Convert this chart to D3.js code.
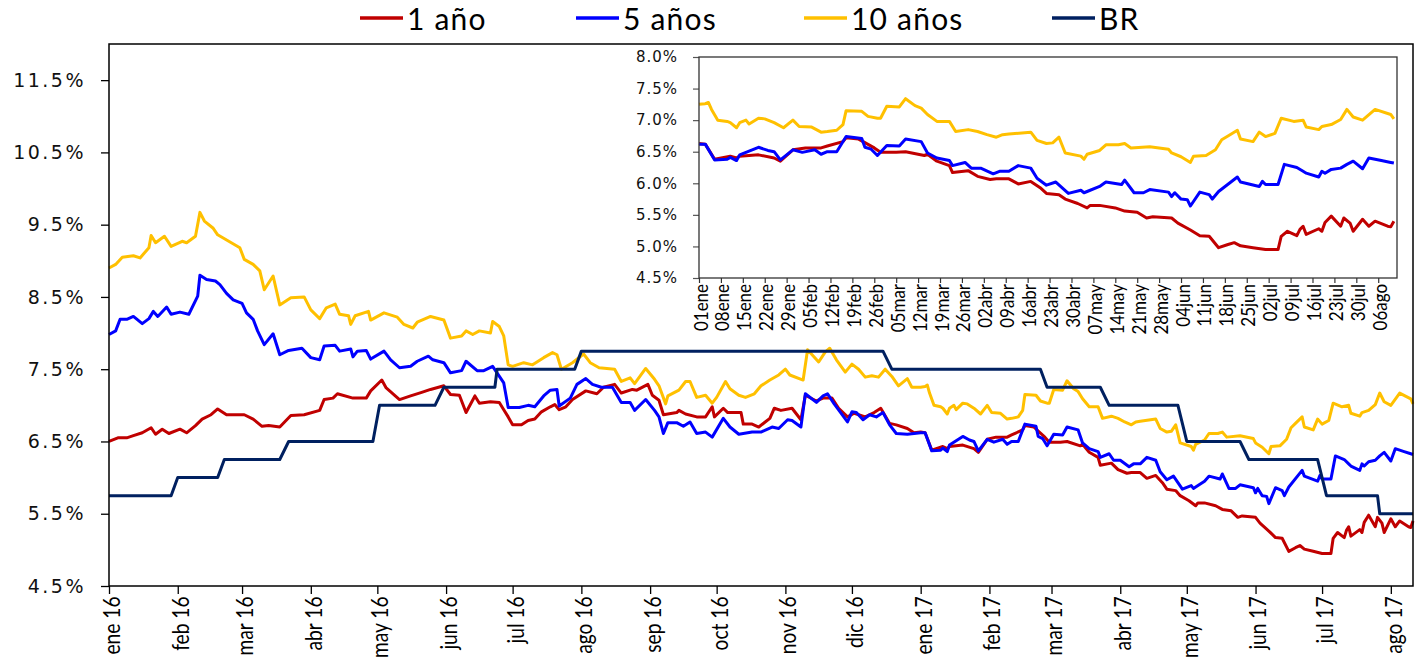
<!DOCTYPE html>
<html>
<head>
<meta charset="utf-8">
<script src="https://cdn.jsdelivr.net/npm/d3@7"></script>
<style>
  body { margin: 0; background: #fff; }
  svg { display: block; }
</style>
</head>
<body>
<div id="container"></div>
<script>
/* CONSTANTS AND GLOBALS */
const width = 1422,
  height = 660,
  margin = { top: 44, bottom: 74, left: 109, right: 9 },
  inset = { left: 699, right: 1397, top: 57, bottom: 278 };

const parse = d3.timeParse("%Y-%m-%d");

/* DATA */
const seriesNames = ["1 año", "5 años", "10 años", "BR"];
const seriesColors = ["#C00000", "#0000FF", "#FFC000", "#002060"];
const meses = ["ene", "feb", "mar", "abr", "may", "jun", "jul", "ago", "sep", "oct", "nov", "dic"];
const yTicksMain = [4.5, 5.5, 6.5, 7.5, 8.5, 9.5, 10.5, 11.5];
const yTicksInset = [4.5, 5.0, 5.5, 6.0, 6.5, 7.0, 7.5, 8.0];

// TES 1 año
const dates1y = ["2016-01-01","2016-01-05","2016-01-09","2016-01-12","2016-01-16","2016-01-20","2016-01-22","2016-01-25","2016-01-28","2016-02-02","2016-02-05","2016-02-09","2016-02-12","2016-02-16","2016-02-19","2016-02-23","2016-03-02","2016-03-06","2016-03-10","2016-03-13","2016-03-18","2016-03-23","2016-03-29","2016-04-05","2016-04-07","2016-04-11","2016-04-13","2016-04-20","2016-04-26","2016-04-28","2016-05-03","2016-05-05","2016-05-11","2016-05-16","2016-05-21","2016-05-25","2016-05-31","2016-06-03","2016-06-07","2016-06-10","2016-06-14","2016-06-16","2016-06-21","2016-06-25","2016-06-27","2016-06-29","2016-07-01","2016-07-05","2016-07-08","2016-07-11","2016-07-14","2016-07-18","2016-07-20","2016-07-22","2016-07-25","2016-07-28","2016-08-03","2016-08-08","2016-08-11","2016-08-16","2016-08-19","2016-08-24","2016-08-26","2016-08-31","2016-09-02","2016-09-05","2016-09-07","2016-09-13","2016-09-14","2016-09-17","2016-09-22","2016-09-26","2016-09-29","2016-09-30","2016-10-04","2016-10-06","2016-10-12","2016-10-13","2016-10-17","2016-10-20","2016-10-25","2016-10-27","2016-10-30","2016-11-04","2016-11-08","2016-11-10","2016-11-15","2016-11-18","2016-11-22","2016-11-25","2016-11-29","2016-12-02","2016-12-07","2016-12-11","2016-12-14","2016-12-18","2016-12-21","2016-12-26","2016-12-29",
  "2017-01-01","2017-01-03","2017-01-06","2017-01-11","2017-01-13","2017-01-14","2017-01-17","2017-01-20","2017-01-25","2017-01-27","2017-01-31","2017-02-04","2017-02-09","2017-02-11","2017-02-16","2017-02-17","2017-02-21","2017-02-26","2017-02-28","2017-03-05","2017-03-08","2017-03-14","2017-03-15","2017-03-18","2017-03-22","2017-03-23","2017-03-28","2017-03-31","2017-04-04","2017-04-06","2017-04-10","2017-04-13","2017-04-17","2017-04-20","2017-04-22","2017-04-26","2017-04-28","2017-05-02","2017-05-05","2017-05-06","2017-05-09","2017-05-14","2017-05-17","2017-05-21","2017-05-24","2017-05-26","2017-06-01","2017-06-03","2017-06-07","2017-06-10","2017-06-13","2017-06-16","2017-06-19","2017-06-21","2017-06-23","2017-06-27","2017-07-01","2017-07-05","2017-07-06","2017-07-08","2017-07-11","2017-07-12","2017-07-13","2017-07-14","2017-07-18","2017-07-19","2017-07-20","2017-07-22","2017-07-25","2017-07-26","2017-07-28","2017-07-29","2017-08-01","2017-08-03","2017-08-05","2017-08-09","2017-08-10","2017-08-11"];
const values1y = [6.50,6.55,6.55,6.58,6.62,6.69,6.60,6.67,6.61,6.67,6.62,6.72,6.81,6.87,6.95,6.87,6.87,6.81,6.71,6.72,6.70,6.86,6.87,6.93,7.08,7.10,7.16,7.10,7.10,7.20,7.35,7.24,7.08,7.13,7.18,7.22,7.27,7.15,7.14,6.90,7.13,7.03,7.05,7.04,6.94,6.84,6.73,6.73,6.79,6.81,6.91,6.98,7.01,6.94,6.98,7.08,7.20,7.16,7.25,7.29,7.17,7.22,7.21,7.29,7.14,7.07,6.87,6.90,6.93,6.88,6.84,6.84,6.98,6.84,6.96,6.90,6.90,6.74,6.74,6.70,6.82,6.96,6.93,6.96,6.80,7.14,7.06,7.10,7.10,6.96,6.84,6.89,6.84,6.90,6.96,6.75,6.73,6.68,6.62,
  6.63,6.62,6.38,6.43,6.40,6.43,6.44,6.45,6.40,6.35,6.53,6.56,6.56,6.59,6.66,6.72,6.70,6.56,6.49,6.49,6.50,6.44,6.46,6.35,6.28,6.17,6.20,6.11,6.06,6.07,6.07,5.99,6.03,5.93,5.84,5.82,5.75,5.68,5.61,5.65,5.65,5.61,5.56,5.54,5.45,5.47,5.45,5.37,5.26,5.17,5.16,4.98,5.03,5.06,5.01,4.98,4.95,4.95,5.16,5.24,5.17,5.27,5.32,5.19,5.28,5.24,5.38,5.48,5.32,5.45,5.37,5.24,5.43,5.32,5.40,5.32,5.31,5.40];

// TES 5 años
const dates5y = ["2016-01-01","2016-01-04","2016-01-06","2016-01-09","2016-01-12","2016-01-16","2016-01-19","2016-01-21","2016-01-23","2016-01-27","2016-01-29","2016-02-02","2016-02-06","2016-02-10","2016-02-11","2016-02-14","2016-02-18","2016-02-20","2016-02-23","2016-02-26","2016-03-01","2016-03-03","2016-03-06","2016-03-08","2016-03-11","2016-03-15","2016-03-18","2016-03-22","2016-03-28","2016-04-01","2016-04-05","2016-04-07","2016-04-12","2016-04-14","2016-04-19","2016-04-20","2016-04-22","2016-04-26","2016-04-28","2016-05-04","2016-05-07","2016-05-11","2016-05-16","2016-05-19","2016-05-24","2016-05-26","2016-05-31","2016-06-03","2016-06-08","2016-06-10","2016-06-15","2016-06-18","2016-06-22","2016-06-27","2016-06-29","2016-07-04","2016-07-08","2016-07-11","2016-07-15","2016-07-18","2016-07-21","2016-07-22","2016-07-27","2016-07-30","2016-08-03","2016-08-06","2016-08-10","2016-08-15","2016-08-19","2016-08-23","2016-08-25","2016-08-30","2016-09-03","2016-09-05","2016-09-07","2016-09-09","2016-09-13","2016-09-16","2016-09-19","2016-09-22","2016-09-26","2016-09-29","2016-10-04","2016-10-07","2016-10-11","2016-10-17","2016-10-21","2016-10-26","2016-10-29","2016-11-02","2016-11-04","2016-11-08","2016-11-10","2016-11-15","2016-11-18","2016-11-20","2016-11-23","2016-11-29","2016-12-01","2016-12-03","2016-12-06","2016-12-09","2016-12-12","2016-12-15","2016-12-18","2016-12-21","2016-12-26","2016-12-29",
  "2017-01-01","2017-01-03","2017-01-06","2017-01-10","2017-01-11","2017-01-13","2017-01-14","2017-01-17","2017-01-20","2017-01-23","2017-01-25","2017-01-27","2017-01-31","2017-02-03","2017-02-07","2017-02-09","2017-02-11","2017-02-14","2017-02-17","2017-02-22","2017-02-23","2017-02-25","2017-02-27","2017-03-02","2017-03-06","2017-03-08","2017-03-13","2017-03-15","2017-03-18","2017-03-22","2017-03-23","2017-03-27","2017-03-29","2017-04-01","2017-04-05","2017-04-07","2017-04-10","2017-04-13","2017-04-17","2017-04-19","2017-04-22","2017-04-25","2017-04-29","2017-05-03","2017-05-04","2017-05-05","2017-05-09","2017-05-11","2017-05-16","2017-05-17","2017-05-20","2017-05-23","2017-05-25","2017-05-31","2017-06-01","2017-06-02","2017-06-04","2017-06-06","2017-06-07","2017-06-10","2017-06-13","2017-06-14","2017-06-16","2017-06-22","2017-06-23","2017-06-29","2017-06-30","2017-07-01","2017-07-05","2017-07-07","2017-07-11","2017-07-13","2017-07-14","2017-07-18","2017-07-19","2017-07-20","2017-07-22","2017-07-25","2017-07-27","2017-07-29","2017-08-01","2017-08-03","2017-08-07","2017-08-10","2017-08-11"];
const values5y = [7.98,8.03,8.19,8.19,8.23,8.13,8.20,8.30,8.23,8.36,8.26,8.29,8.26,8.51,8.80,8.74,8.72,8.67,8.55,8.46,8.41,8.28,8.19,8.03,7.84,7.99,7.70,7.76,7.79,7.66,7.63,7.82,7.83,7.75,7.78,7.67,7.75,7.76,7.64,7.75,7.63,7.52,7.54,7.61,7.68,7.63,7.59,7.45,7.48,7.61,7.48,7.48,7.54,7.31,6.97,6.97,7.00,6.98,7.13,7.21,7.22,6.99,7.10,7.29,7.37,7.29,7.25,7.25,7.04,7.04,6.93,7.08,6.93,6.84,6.61,6.76,6.76,6.71,6.77,6.61,6.63,6.56,6.82,6.70,6.60,6.63,6.63,6.70,6.68,6.80,6.79,6.70,7.16,7.04,7.13,7.16,7.02,6.77,6.91,6.90,6.80,6.87,6.84,6.90,6.73,6.61,6.60,6.61,
  6.62,6.62,6.37,6.38,6.41,6.36,6.45,6.51,6.57,6.52,6.50,6.37,6.53,6.49,6.53,6.46,6.50,6.50,6.74,6.71,6.57,6.54,6.44,6.60,6.59,6.70,6.66,6.48,6.40,6.36,6.28,6.33,6.24,6.24,6.15,6.19,6.19,6.28,6.24,6.08,5.97,6.02,5.84,5.89,5.85,5.87,5.95,6.02,5.98,6.05,5.85,5.85,5.90,5.86,5.79,5.85,5.75,5.74,5.64,5.86,5.82,5.75,5.87,6.10,6.02,5.95,6.03,5.98,5.98,6.30,6.25,6.19,6.16,6.10,6.19,6.16,6.22,6.24,6.30,6.35,6.23,6.40,6.36,6.33,6.32];

// TES 10 años
const dates10y = ["2016-01-01","2016-01-04","2016-01-07","2016-01-12","2016-01-15","2016-01-19","2016-01-20","2016-01-22","2016-01-26","2016-01-29","2016-02-03","2016-02-05","2016-02-09","2016-02-11","2016-02-13","2016-02-17","2016-02-19","2016-02-24","2016-02-29","2016-03-02","2016-03-06","2016-03-09","2016-03-11","2016-03-15","2016-03-18","2016-03-23","2016-03-29","2016-04-01","2016-04-05","2016-04-08","2016-04-12","2016-04-14","2016-04-18","2016-04-19","2016-04-21","2016-04-27","2016-04-28","2016-05-04","2016-05-10","2016-05-13","2016-05-17","2016-05-19","2016-05-25","2016-05-31","2016-06-03","2016-06-08","2016-06-10","2016-06-13","2016-06-16","2016-06-21","2016-06-22","2016-06-25","2016-06-27","2016-06-29","2016-07-01","2016-07-06","2016-07-10","2016-07-15","2016-07-19","2016-07-21","2016-07-23","2016-07-28","2016-08-02","2016-08-05","2016-08-09","2016-08-16","2016-08-19","2016-08-23","2016-08-25","2016-08-30","2016-09-03","2016-09-05","2016-09-08","2016-09-09","2016-09-14","2016-09-17","2016-09-19","2016-09-22","2016-09-26","2016-09-29","2016-10-01","2016-10-05","2016-10-07","2016-10-11","2016-10-14","2016-10-18","2016-10-21","2016-10-25","2016-10-29","2016-11-01","2016-11-03","2016-11-09","2016-11-11","2016-11-16","2016-11-19","2016-11-21","2016-11-24","2016-11-28","2016-12-01","2016-12-04","2016-12-07","2016-12-10","2016-12-13","2016-12-16","2016-12-19","2016-12-22","2016-12-26","2016-12-28",
  "2017-01-01","2017-01-03","2017-01-04","2017-01-05","2017-01-07","2017-01-10","2017-01-11","2017-01-13","2017-01-14","2017-01-16","2017-01-17","2017-01-20","2017-01-22","2017-01-25","2017-01-28","2017-01-31","2017-02-02","2017-02-06","2017-02-09","2017-02-11","2017-02-14","2017-02-16","2017-02-17","2017-02-22","2017-02-24","2017-02-27","2017-02-28","2017-03-02","2017-03-06","2017-03-08","2017-03-11","2017-03-13","2017-03-15","2017-03-18","2017-03-22","2017-03-24","2017-03-28","2017-03-31","2017-04-03","2017-04-06","2017-04-08","2017-04-10","2017-04-17","2017-04-19","2017-04-22","2017-04-24","2017-04-26","2017-04-28","2017-05-03","2017-05-04","2017-05-05","2017-05-09","2017-05-11","2017-05-15","2017-05-17","2017-05-19","2017-05-25","2017-05-31","2017-06-01","2017-06-04","2017-06-07","2017-06-08","2017-06-12","2017-06-15","2017-06-17","2017-06-19","2017-06-22","2017-06-23","2017-06-27","2017-06-29","2017-07-01","2017-07-04","2017-07-06","2017-07-10","2017-07-13","2017-07-14","2017-07-18","2017-07-19","2017-07-22","2017-07-25","2017-07-27","2017-07-29","2017-08-01","2017-08-05","2017-08-10","2017-08-11"];
const values10y = [8.90,8.95,9.05,9.07,9.04,9.18,9.35,9.25,9.34,9.20,9.27,9.25,9.34,9.67,9.55,9.45,9.36,9.27,9.18,9.02,8.95,8.86,8.60,8.79,8.39,8.49,8.50,8.32,8.20,8.35,8.40,8.26,8.24,8.12,8.24,8.30,8.18,8.28,8.22,8.12,8.07,8.15,8.23,8.18,7.93,7.96,8.03,7.98,8.03,8.00,8.16,8.09,7.96,7.56,7.54,7.59,7.56,7.66,7.73,7.70,7.50,7.59,7.71,7.59,7.52,7.50,7.33,7.38,7.30,7.51,7.36,7.27,7.02,7.13,7.21,7.33,7.33,7.11,7.14,7.03,7.11,7.33,7.23,7.14,7.11,7.16,7.27,7.35,7.42,7.50,7.42,7.35,7.77,7.60,7.74,7.79,7.63,7.46,7.57,7.50,7.39,7.41,7.39,7.50,7.40,7.27,7.37,7.25,
  7.25,7.26,7.28,7.17,7.00,6.98,6.96,6.88,6.96,7.00,6.94,7.03,7.02,6.96,6.88,7.00,6.90,6.89,6.81,6.82,6.84,6.93,7.15,7.14,7.06,7.03,7.03,7.22,7.21,7.34,7.23,7.19,7.09,6.98,6.98,6.82,6.85,6.82,6.77,6.73,6.77,6.78,6.81,6.68,6.63,6.64,6.73,6.48,6.43,6.38,6.46,6.52,6.61,6.61,6.63,6.56,6.58,6.54,6.48,6.42,6.33,6.43,6.44,6.53,6.69,6.75,6.84,6.70,6.66,6.81,6.74,6.79,7.03,6.98,7.00,6.89,6.85,6.90,6.93,7.01,7.17,7.05,7.00,7.17,7.09,7.02];

// Tasa BR (puntos de cambio)
const datesBR = ["2016-01-01","2016-01-29","2016-02-01","2016-02-19","2016-02-22","2016-03-18","2016-03-22","2016-04-29","2016-05-02","2016-05-27","2016-05-31","2016-06-23","2016-06-24","2016-07-29","2016-08-01","2016-12-15","2016-12-19","2017-02-24","2017-02-27","2017-03-23","2017-03-27","2017-04-27","2017-05-01","2017-05-25","2017-05-29","2017-06-29","2017-07-03","2017-07-26","2017-07-27","2017-08-11"];
const valuesBR = [5.75,5.75,6.00,6.00,6.25,6.25,6.50,6.50,7.00,7.00,7.25,7.25,7.50,7.50,7.75,7.75,7.50,7.50,7.25,7.25,7.00,7.00,6.50,6.50,6.25,6.25,5.75,5.75,5.50,5.50];

const series = [
  { name: seriesNames[0], color: seriesColors[0], values: dates1y.map((d, i) => ({ date: parse(d), value: values1y[i] })) },
  { name: seriesNames[1], color: seriesColors[1], values: dates5y.map((d, i) => ({ date: parse(d), value: values5y[i] })) },
  { name: seriesNames[2], color: seriesColors[2], values: dates10y.map((d, i) => ({ date: parse(d), value: values10y[i] })) },
  { name: seriesNames[3], color: seriesColors[3], values: datesBR.map((d, i) => ({ date: parse(d), value: valuesBR[i] })) },
];

/* SCALES */
const xScale = d3.scaleTime()
  .domain([parse("2016-01-01"), parse("2017-08-11")])
  .range([margin.left, width - margin.right]);
const yScale = d3.scaleLinear()
  .domain([4.5, 12.0])
  .range([height - margin.bottom, margin.top]);

const xInset = d3.scaleTime()
  .domain([parse("2017-01-01"), parse("2017-08-12")])
  .range([inset.left, inset.right]);
const yInset = d3.scaleLinear()
  .domain([4.5, 8.0])
  .range([inset.bottom, inset.top]);

/* DRAW */
const svg = d3.select("#container")
  .append("svg")
  .attr("width", width)
  .attr("height", height);

// main axes
const monthTicks = d3.timeMonth.range(parse("2016-01-01"), parse("2017-08-02"));
const xAxis = d3.axisBottom(xScale)
  .tickValues(monthTicks)
  .tickSize(8)
  .tickSizeOuter(0)
  .tickFormat(d => `${meses[d.getMonth()]} ${String(d.getFullYear()).slice(2)}`);

// narrow labels: the glyphs are squeezed along the baseline
svg.append("g")
  .attr("transform", `translate(0, ${height - margin.bottom})`)
  .call(xAxis)
  .call(g => g.select(".domain").remove())
  .call(g => g.selectAll("line").attr("stroke", "#000").attr("stroke-width", 1.3))
  .selectAll("text")
    .attr("transform", "rotate(-90) scale(0.8, 1)")
    .attr("x", -13)
    .attr("y", 2)
    .attr("dy", "0.35em")
    .style("text-anchor", "end")
    .style("font-family", "Lato, 'Open Sans', sans-serif")
    .style("font-size", "24px")
    .attr("fill", "#000");

const yAxis = d3.axisLeft(yScale)
  .tickValues(yTicksMain)
  .tickSize(8)
  .tickSizeOuter(0)
  .tickPadding(15)
  .tickFormat(d => d.toFixed(1) + "%");

svg.append("g")
  .attr("transform", `translate(${margin.left}, 0)`)
  .call(yAxis)
  .call(g => g.select(".domain").remove())
  .call(g => g.selectAll("line").attr("stroke", "#000").attr("stroke-width", 1.3))
  .selectAll("text")
    .style("font-family", "'DejaVu Sans', Verdana, sans-serif")
    .style("font-size", "19px")
    .style("letter-spacing", "2.5px")
    .attr("fill", "#111");

// lines
const line = d3.line()
  .x(d => xScale(d.date))
  .y(d => yScale(d.value));

svg.append("g")
  .selectAll("path")
  .data(series)
  .join("path")
  .attr("d", d => line(d.values))
  .attr("fill", "none")
  .attr("stroke", d => d.color)
  .attr("stroke-width", 3)
  .attr("stroke-linejoin", "round");

// frame of main plot
svg.append("rect")
  .attr("x", margin.left)
  .attr("y", margin.top)
  .attr("width", width - margin.right - margin.left)
  .attr("height", height - margin.bottom - margin.top)
  .attr("fill", "none")
  .attr("stroke", "#000")
  .attr("stroke-width", 1.5);

/* INSET */
const ins = svg.append("g");

ins.append("rect")
  .attr("x", 623)
  .attr("y", margin.top + 1)
  .attr("width", width - margin.right - 624)
  .attr("height", 292)
  .attr("fill", "#fff");

const weekTicks = d3.timeWeek.range(parse("2017-01-01"), parse("2017-08-07"));
const xAxisInset = d3.axisBottom(xInset)
  .tickValues(weekTicks)
  .tickSize(5)
  .tickSizeOuter(0)
  .tickFormat(d => d3.timeFormat("%d")(d) + meses[d.getMonth()]);

ins.append("g")
  .attr("transform", `translate(0, ${inset.bottom})`)
  .call(xAxisInset)
  .call(g => g.select(".domain").remove())
  .call(g => g.selectAll("line").attr("stroke", "#333").attr("stroke-width", 1.2))
  .selectAll("text")
    .attr("transform", "rotate(-90) scale(0.85, 1)")
    .attr("x", -7)
    .attr("y", 1)
    .attr("dy", "0.35em")
    .style("text-anchor", "end")
    .style("font-family", "Lato, 'Open Sans', sans-serif")
    .style("font-size", "20px")
    .attr("fill", "#000");

const yAxisInset = d3.axisLeft(yInset)
  .tickValues(yTicksInset)
  .tickSize(6)
  .tickSizeOuter(0)
  .tickPadding(15)
  .tickFormat(d => d.toFixed(1) + "%");

ins.append("g")
  .attr("transform", `translate(${inset.left}, 0)`)
  .call(yAxisInset)
  .call(g => g.select(".domain").remove())
  .call(g => g.selectAll("line").attr("stroke", "#555").attr("stroke-width", 1.2))
  .selectAll("text")
    .style("font-family", "'DejaVu Sans', Verdana, sans-serif")
    .style("font-size", "15px")
    .style("letter-spacing", "1px")
    .attr("fill", "#111");

const lineInset = d3.line()
  .x(d => xInset(d.date))
  .y(d => yInset(d.value));

ins.append("g")
  .selectAll("path")
  .data(series.slice(0, 3))
  .join("path")
  .attr("d", d => lineInset(d.values.filter(v => v.date >= xInset.domain()[0])))
  .attr("fill", "none")
  .attr("stroke", d => d.color)
  .attr("stroke-width", 3)
  .attr("stroke-linejoin", "round");

ins.append("rect")
  .attr("x", inset.left)
  .attr("y", inset.top)
  .attr("width", inset.right - inset.left)
  .attr("height", inset.bottom - inset.top)
  .attr("fill", "none")
  .attr("stroke", "#333")
  .attr("stroke-width", 1.3);

/* LEGEND */
const legendX = [360, 576, 804, 1052];
const legend = svg.append("g")
  .selectAll("g")
  .data(series)
  .join("g")
  .attr("transform", (d, i) => `translate(${legendX[i]}, 18)`);

legend.append("line")
  .attr("x1", 0)
  .attr("x2", 43)
  .attr("stroke", d => d.color)
  .attr("stroke-width", 3.5);

legend.append("text")
  .attr("x", 47)
  .attr("y", 12)
  .text(d => d.name)
  .style("font-family", "Lato, 'Open Sans', sans-serif")
  .style("font-size", "30px")
  .style("letter-spacing", "1.2px")
  .attr("fill", "#000");
</script>
</body>
</html>
